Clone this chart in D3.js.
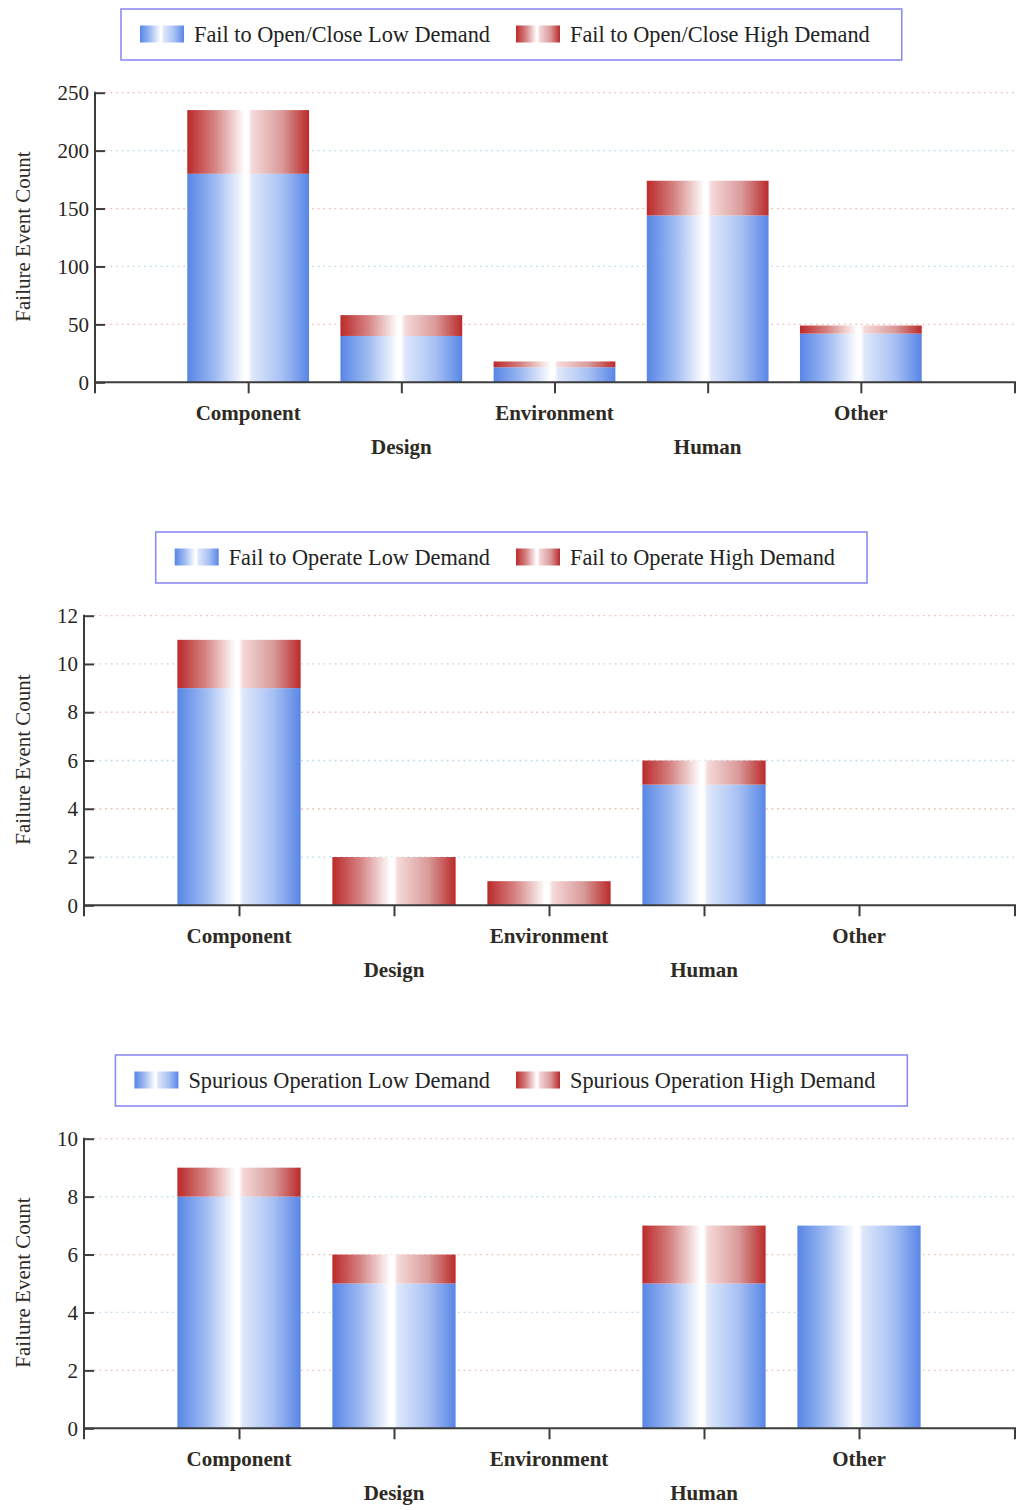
<!DOCTYPE html>
<html><head><meta charset="utf-8">
<script src="https://cdn.jsdelivr.net/npm/d3@7"></script>
<style>body{margin:0;background:#fff}svg{display:block}</style>
</head><body><svg id="c" width="1016" height="1510"></svg>
<script>
const categories = ["Component", "Design", "Environment", "Human", "Other"];
const lowDemand1 = [180, 40, 13, 144, 42];
const highDemand1 = [55, 18, 5, 30, 7];
const lowDemand2 = [9, 0, 0, 5, 0];
const highDemand2 = [2, 2, 1, 1, 0];
const lowDemand3 = [8, 5, 0, 5, 7];
const highDemand3 = [1, 1, 0, 2, 0];
const legendLow = ["Fail to Open/Close Low Demand", "Fail to Operate Low Demand", "Spurious Operation Low Demand"];
const legendHigh = ["Fail to Open/Close High Demand", "Fail to Operate High Demand", "Spurious Operation High Demand"];
const yTicks1 = [0, 50, 100, 150, 200, 250];
const yTicks2 = [0, 2, 4, 6, 8, 10, 12];
const yTicks3 = [0, 2, 4, 6, 8, 10];
const yTitle = "Failure Event Count";

const panels = [
  {low: lowDemand1, high: highDemand1, ticks: yTicks1, lLow: legendLow[0], lHigh: legendHigh[0]},
  {low: lowDemand2, high: highDemand2, ticks: yTicks2, lLow: legendLow[1], lHigh: legendHigh[1]},
  {low: lowDemand3, high: highDemand3, ticks: yTicks3, lLow: legendLow[2], lHigh: legendHigh[2]}
];

const FONT = "'Liberation Serif','Times New Roman',serif";
const svg = d3.select("#c");
const W = 1016, RIGHT = 1014, PANEL_H = 523;
const PLOT_TOP = 92.7, PLOT_BOT = 382.3;

const defs = svg.append("defs");
function grad(id, edge, mid1, near, mid2) {
  const g = defs.append("linearGradient").attr("id", id).attr("x1", "0%").attr("x2", "100%").attr("y1", "0%").attr("y2", "0%");
  [[0, edge], [0.22, mid1], [0.47, "#ffffff"], [0.5, "#ffffff"], [0.53, near], [0.78, mid2], [1, edge]]
    .forEach(([o, c]) => g.append("stop").attr("offset", o).attr("stop-color", c));
}
grad("gBlue", "#5886e6", "#9bb8f1", "#dfe8fb", "#a7c0f3");
grad("gRed", "#bb2a2a", "#d58080", "#f6d9d9", "#d99a9a");

panels.forEach((p, i) => {
  const g = svg.append("g").attr("transform", `translate(0,${i * PANEL_H})`);

  const yMax = d3.max(p.ticks);
  const y = d3.scaleLinear().domain([0, yMax]).range([PLOT_BOT, PLOT_TOP]);

  const meas = g.append("g").attr("font-family", FONT).attr("font-size", 21);
  let maxW = 0;
  p.ticks.forEach(t => {
    const tx = meas.append("text").text(t);
    maxW = Math.max(maxW, tx.node().getComputedTextLength());
  });
  meas.remove();
  const axisX = Math.round(57 + maxW + 6);

  const x = d3.scalePoint().domain(categories).range([axisX, RIGHT]).padding(1);
  const bw = x.step() * 0.795;

  g.append("g").selectAll("line").data(p.ticks.filter(t => t > 0)).join("line")
    .attr("x1", axisX + 10).attr("x2", W)
    .attr("y1", d => y(d)).attr("y2", d => y(d))
    .attr("stroke", (d, k) => (p.ticks.length - 1 - k) % 2 === 1 ? "#f2b9b0" : "#b5d6ec")
    .attr("stroke-width", 1.3)
    .attr("stroke-dasharray", "1.6,4");

  const bars = g.append("g");
  categories.forEach((c, k) => {
    const lo = p.low[k], hi = p.high[k];
    if (lo > 0) bars.append("rect").attr("x", x(c) - bw / 2).attr("width", bw)
      .attr("y", y(lo)).attr("height", y(0) - y(lo)).attr("fill", "url(#gBlue)");
    if (hi > 0) bars.append("rect").attr("x", x(c) - bw / 2).attr("width", bw)
      .attr("y", y(lo + hi)).attr("height", y(lo) - y(lo + hi)).attr("fill", "url(#gRed)");
  });

  const yAxis = d3.axisLeft(y).tickValues(p.ticks).tickSizeInner(-10).tickSizeOuter(0).tickPadding(6);
  const ya = g.append("g").attr("transform", `translate(${axisX},0)`).call(yAxis);
  ya.select(".domain").remove();
  ya.selectAll(".tick line").attr("stroke", "#3c3c3c").attr("stroke-width", 2);
  ya.selectAll(".tick text").attr("font-family", FONT).attr("font-size", 21).attr("fill", "#28241e");
  g.append("line").attr("x1", axisX).attr("x2", axisX).attr("y1", y(yMax) - 1).attr("y2", y(0) + 11)
    .attr("stroke", "#3c3c3c").attr("stroke-width", 2);

  const xAxis = d3.axisBottom(x).tickSize(11).tickFormat("");
  const xa = g.append("g").attr("transform", `translate(0,${y(0)})`).call(xAxis);
  xa.select(".domain").remove();
  xa.selectAll(".tick line").attr("stroke", "#3c3c3c").attr("stroke-width", 2);
  g.append("line").attr("x1", axisX).attr("x2", W).attr("y1", y(0)).attr("y2", y(0))
    .attr("stroke", "#3c3c3c").attr("stroke-width", 2);
  g.append("line").attr("x1", W - 1).attr("x2", W - 1).attr("y1", y(0)).attr("y2", y(0) + 11)
    .attr("stroke", "#3c3c3c").attr("stroke-width", 2);

  g.append("g").selectAll("text").data(categories).join("text")
    .attr("x", d => x(d)).attr("y", (d, k) => y(0) + (k % 2 === 0 ? 38 : 72))
    .attr("text-anchor", "middle").attr("font-family", FONT).attr("font-size", 21)
    .attr("font-weight", "bold").attr("fill", "#2e2a24").text(d => d);

  g.append("text").attr("transform", `translate(30,${(PLOT_TOP + PLOT_BOT) / 2 - 1}) rotate(-90)`)
    .attr("text-anchor", "middle").attr("font-family", FONT).attr("font-size", 21)
    .attr("fill", "#2e2a24").text(yTitle);

  const lg = g.append("g");
  const ly = 34.5;
  const t1 = lg.append("text").attr("x", 490).attr("y", ly + 7).attr("text-anchor", "end")
    .attr("font-family", FONT).attr("font-size", 22.3).attr("fill", "#222").text(p.lLow);
  const w1 = t1.node().getComputedTextLength();
  const s1x = 490 - w1 - 54;
  lg.append("rect").attr("x", s1x).attr("y", ly - 9).attr("width", 44).attr("height", 17).attr("fill", "url(#gBlue)");
  lg.append("rect").attr("x", 516).attr("y", ly - 9).attr("width", 44).attr("height", 17).attr("fill", "url(#gRed)");
  const t2 = lg.append("text").attr("x", 570).attr("y", ly + 7)
    .attr("font-family", FONT).attr("font-size", 22.3).attr("fill", "#222").text(p.lHigh);
  const w2 = t2.node().getComputedTextLength();
  lg.insert("rect", ":first-child").attr("x", s1x - 19).attr("y", 9).attr("width", (570 + w2 + 32) - (s1x - 19)).attr("height", 51)
    .attr("fill", "#fff").attr("stroke", "#8e8cf0").attr("stroke-width", 1.6);
});
</script></body></html>
